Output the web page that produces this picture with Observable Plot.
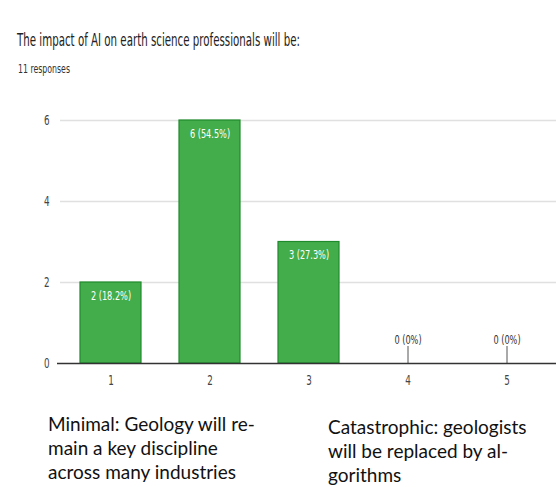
<!DOCTYPE html>
<html>
<head>
<meta charset="utf-8">
<script src="https://cdn.jsdelivr.net/npm/d3@7"></script>
<script src="https://cdn.jsdelivr.net/npm/@observablehq/plot@0.6"></script>
<style>
  html, body { margin: 0; padding: 0; background: #fff; }
  body { width: 556px; height: 487px; position: relative; overflow: hidden; }
  .narrow { font-family: "Liberation Sans Narrow", "DejaVu Sans Condensed", Roboto, sans-serif; }
  #title { position: absolute; left: 17px; top: 30px; font-size: 17px; color: #222; white-space: nowrap; transform-origin: 0 0; }
  #subtitle { position: absolute; left: 18px; top: 62px; font-size: 11.5px; color: #333; white-space: nowrap; transform-origin: 0 0; }
  #chart { position: absolute; left: 0; top: 90px; }
  .note { position: absolute; font-family: Lato, "Open Sans", sans-serif; font-size: 19px; line-height: 24px; color: #111; white-space: nowrap; }
  #noteLow { left: 48px; top: 412px; }
  #noteHigh { left: 328px; top: 415px; }
</style>
</head>
<body>
<div id="title" class="narrow">The impact of AI on earth science professionals will be:</div>
<div id="subtitle" class="narrow">11 responses</div>
<div id="chart"></div>
<div id="noteLow" class="note">Minimal: Geology will re-<br>main a key discipline<br>across many industries</div>
<div id="noteHigh" class="note">Catastrophic: geologists<br>will be replaced by al-<br>gorithms</div>
<script>
// Linear scale answers (1 = minimal impact … 5 = catastrophic)
const scaleOptions = ["1", "2", "3", "4", "5"];
const responseCounts = [2, 6, 3, 0, 0];
const totalResponses = 11;
const yTicks = [0, 2, 4, 6];

const rows = scaleOptions.map((option, i) => {
  const count = responseCounts[i];
  const pct = Math.round(count / totalResponses * 1000) / 10;
  return { option, count, label: `${count} (${pct}%)` };
});

const narrow = '"Liberation Sans Narrow", "DejaVu Sans Condensed", Roboto, sans-serif';

const chart = Plot.plot({
  width: 556,
  height: 310,
  marginLeft: 60,
  marginRight: 0,
  marginTop: 30,
  marginBottom: 37,
  style: { fontFamily: narrow, fontSize: "12px", color: "#444", background: "transparent" },
  x: { domain: scaleOptions, range: [60, 557], paddingInner: 0.38, paddingOuter: 0.18, label: null },
  y: { domain: [0, 6], label: null },
  marks: [
    Plot.ruleY(yTicks.filter(d => d > 0), { stroke: "#e0e0e0", strokeWidth: 1.5 }),
    Plot.axisY(yTicks, { tickSize: 0, tickPadding: 11, fontSize: 14, fill: "#444" }),
    Plot.axisX({ tickSize: 0, tickPadding: 12, fontSize: 14, fill: "#444" }),
    Plot.barY(rows.filter(d => d.count > 0), {
      x: "option", y: "count", fill: "#43ad4b", stroke: "#1f8a2c", strokeWidth: 1.2
    }),
    Plot.text(rows.filter(d => d.count > 0), {
      x: "option", y: "count", text: "label", fill: "#fff", dy: 13, fontSize: 13
    }),
    Plot.ruleX(rows.filter(d => d.count === 0), {
      x: "option", y1: 0, y2: 0, insetTop: -17, stroke: "#555", strokeWidth: 1
    }),
    Plot.text(rows.filter(d => d.count === 0), {
      x: "option", y: "count", text: "label", fill: "#333", dy: -24, fontSize: 13
    }),
    Plot.ruleY([0], { stroke: "#333", strokeWidth: 1.5, insetLeft: -3 })
  ]
});
document.getElementById("chart").append(chart);

// Condense the chart's labels horizontally, like the form summary's narrow face
chart.querySelectorAll("text").forEach(t => {
  const len = t.getComputedTextLength();
  if (len > 0) {
    t.setAttribute("textLength", (len * 0.7).toFixed(1));
    t.setAttribute("lengthAdjust", "spacingAndGlyphs");
  }
});

// Squeeze the heading lines to the condensed width of the form summary
function fitWidth(id, target) {
  const el = document.getElementById(id);
  const w = el.getBoundingClientRect().width;
  if (w > 0) el.style.transform = `scaleX(${target / w})`;
}
fitWidth("title", 283);
fitWidth("subtitle", 52);
</script>
</body>
</html>
